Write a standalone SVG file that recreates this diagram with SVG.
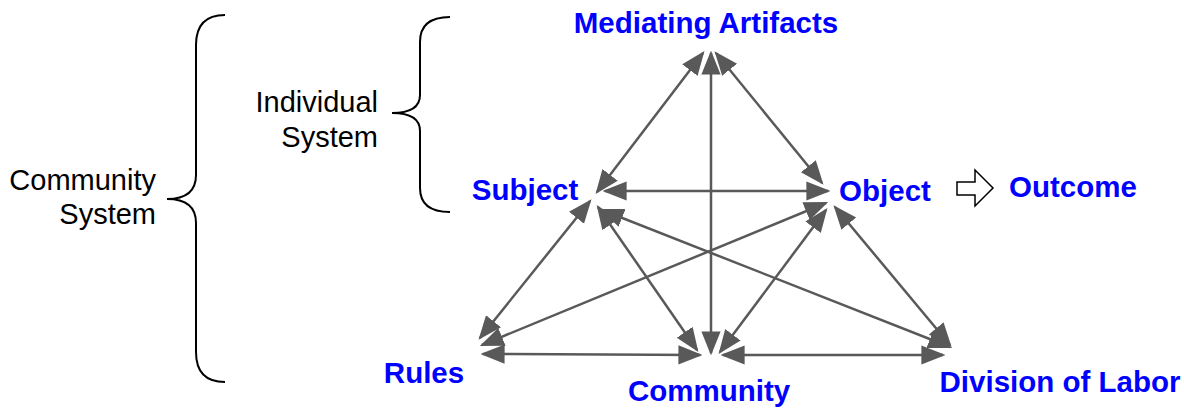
<svg xmlns="http://www.w3.org/2000/svg" width="1184" height="411" viewBox="0 0 1184 411">
<style>
.lbl{font-family:"Liberation Sans",Arial,sans-serif;font-weight:bold;font-size:29.5px;fill:#0000FF}
.blk{font-family:"Liberation Sans",Arial,sans-serif;font-size:29px;fill:#000000}
.con{stroke:#595959;stroke-width:2.5;fill:none;marker-start:url(#ah);marker-end:url(#ah)}
.brace{stroke:#000;stroke-width:2;fill:none}
</style>
<defs>
<marker id="ah" markerUnits="userSpaceOnUse" markerWidth="24" markerHeight="24" viewBox="0 0 20 16" refX="18" refY="8" orient="auto-start-reverse">
<path d="M0,0 L20,8 L0,16 Z" fill="#595959"/>
</marker>
</defs>
<rect width="1184" height="411" fill="#fff"/>
<g id="connectors">
<line class="con" x1="597" y1="192" x2="703" y2="53"/>
<line class="con" x1="716" y1="53" x2="822" y2="183"/>
<line class="con" x1="711" y1="53" x2="711" y2="353"/>
<line class="con" x1="605" y1="191" x2="828" y2="191"/>
<line class="con" x1="590" y1="201" x2="480" y2="338"/>
<line class="con" x1="598" y1="207" x2="697" y2="350"/>
<line class="con" x1="602" y1="210" x2="950" y2="347"/>
<line class="con" x1="826" y1="203" x2="482" y2="345"/>
<line class="con" x1="826" y1="210" x2="720" y2="352"/>
<line class="con" x1="835" y1="207" x2="950" y2="345"/>
<line class="con" x1="483" y1="354" x2="700" y2="355"/>
<line class="con" x1="723" y1="355" x2="943" y2="355"/>
</g>
<g id="mediating-artifacts"><text class="lbl" x="706" y="33" text-anchor="middle">Mediating Artifacts</text></g>
<g id="subject"><text class="lbl" x="525" y="200" text-anchor="middle">Subject</text></g>
<g id="object"><text class="lbl" x="885" y="201" text-anchor="middle">Object</text></g>
<g id="outcome-arrow"><path d="M957,182 L975,182 L975,170 L993,188 L975,206 L975,195 L957,195 Z" fill="#fff" stroke="#000" stroke-width="1.5"/></g>
<g id="outcome"><text class="lbl" x="1073" y="197" text-anchor="middle">Outcome</text></g>
<g id="rules"><text class="lbl" x="424" y="383" text-anchor="middle">Rules</text></g>
<g id="community"><text class="lbl" x="709" y="401" text-anchor="middle">Community</text></g>
<g id="division-of-labor"><text class="lbl" x="1060" y="392" text-anchor="middle">Division of Labor</text></g>
<g id="community-system">
<path class="brace" d="M225,15 C205,15 196,25 196,45 L196,175 C196,192 185,199 167,199 C185,199 196,206 196,223 L196,352 C196,372 205,382 225,382"/>
<text class="blk" x="156" y="190" text-anchor="end">Community</text>
<text class="blk" x="156" y="224" text-anchor="end">System</text>
</g>
<g id="individual-system">
<path class="brace" d="M450,17 C430,17 420,25 420,42 L420,95 C420,108 410,113 392,113 C410,113 420,118 420,131 L420,188 C420,204 430,212 450,212"/>
<text class="blk" x="378" y="112" text-anchor="end">Individual</text>
<text class="blk" x="378" y="147" text-anchor="end">System</text>
</g>
</svg>
